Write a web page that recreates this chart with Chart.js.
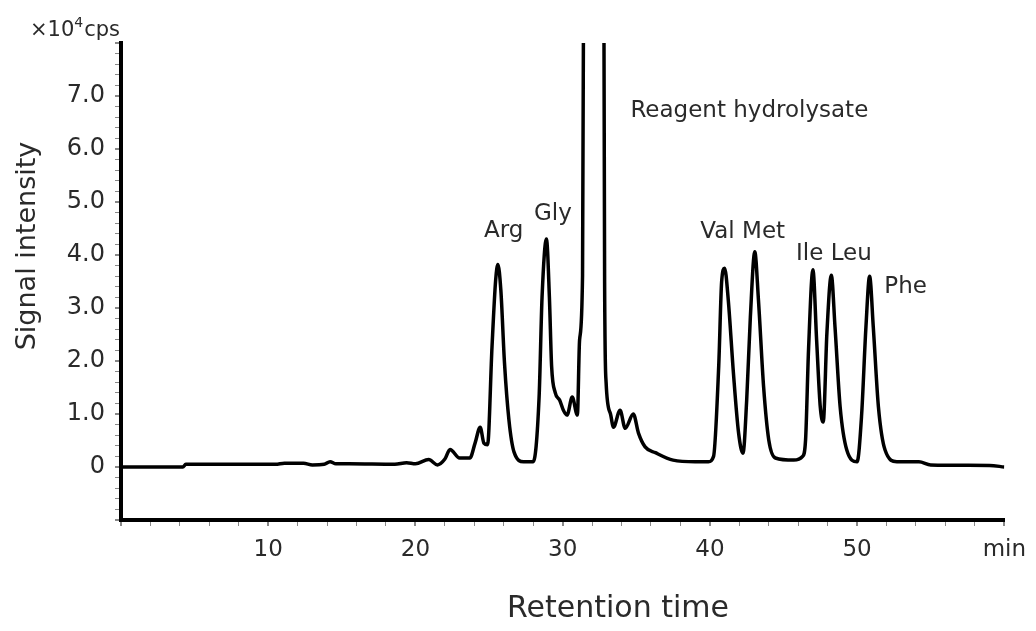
<!DOCTYPE html>
<html>
<head>
<meta charset="utf-8">
<script src="https://cdn.jsdelivr.net/npm/chart.js@4"></script>
<style>
    body { margin: 0; background: #fff; }
    canvas { display: block; }
</style>
</head>
<body>
<canvas id="chart" width="1036" height="631"></canvas>
<script>
// retention time (min) and signal (x10^4 cps)
const times = [
    0, 4.2, 4.4, 10.5, 11.1, 11.8, 12.4, 13.0, 13.8, 14.2, 14.6, 15.5, 18.6, 19.4, 20.0, 20.9,
    21.5, 22.0, 22.35, 23.0, 23.7, 24.05, 24.4, 24.65, 24.9, 25.2, 25.45, 25.6, 25.8, 26.05,
    26.35, 26.7, 27.35, 28.0, 28.4, 28.6, 28.9, 29.1, 29.25, 29.5, 29.8, 30.05, 30.3, 30.65,
    31.0, 31.15, 31.35, 31.55, 31.9, 32.3, 32.7, 32.85, 32.95, 33.25, 33.45, 33.9, 34.25, 34.8,
    35.15, 35.6, 36.3, 37.5, 39.0, 39.9, 40.25, 40.6, 40.8, 41.0, 41.25, 41.6, 41.95, 42.25,
    42.5, 42.75, 43.05, 43.3, 43.65, 44.0, 44.45, 45.7, 46.3, 46.5, 46.7, 47.0, 47.25, 47.5,
    47.7, 47.95, 48.25, 48.5, 48.85, 49.3, 50.0, 50.3, 50.6, 50.85, 51.1, 51.45, 51.9, 52.7,
    54.2, 55.0, 59.0, 60.0
];
const signal = [
    0, 0, 0.05, 0.05, 0.07, 0.07, 0.07, 0.04, 0.05, 0.1, 0.06, 0.06, 0.05, 0.08, 0.06, 0.14,
    0.04, 0.15, 0.33, 0.17, 0.17, 0.45, 0.75, 0.45, 0.42, 2.26, 3.53, 3.82, 3.34, 1.96,
    0.89, 0.28, 0.1, 0.1, 1.32, 3.2, 4.3, 3.2, 1.9, 1.4, 1.26, 1.07, 0.98, 1.32,
    0.98, 2.4, 3.6, 20, 40, 40, 20, 3.5, 1.6, 1.0, 0.75, 1.07, 0.73, 1.0,
    0.64, 0.38, 0.27, 0.13, 0.1, 0.1, 0.2, 1.9, 3.5, 3.75, 3.15, 1.77, 0.64, 0.26,
    1.26, 2.83, 4.06, 3.15, 1.51, 0.51, 0.17, 0.13, 0.2, 0.51, 2.2, 3.72, 2.4, 1.13,
    0.85, 2.53, 3.62, 2.64, 1.13, 0.32, 0.1, 0.95, 2.64, 3.6, 2.64, 1.13, 0.32, 0.1,
    0.1, 0.04, 0.03, 0
];

const peakNames = ['Arg', 'Gly', 'Reagent hydrolysate', 'Val Met', 'Ile Leu', 'Phe'];
const peakLabelTimes = [24.65, 28.05, 34.6, 39.35, 45.85, 51.85];
const peakLabelHeights = [4.34, 4.66, 6.6, 4.32, 3.9, 3.28];

const xLabeled = [10, 20, 30, 40, 50];
const yLabeled = [0, 1, 2, 3, 4, 5, 6, 7];

const FONT = '"DejaVu Sans", sans-serif';
const TEXT_COLOR = '#2a2a2a';

function isWhole(v) {
    return Math.abs(v - Math.round(v)) < 1e-6;
}

const textPlugin = {
    id: 'chromText',
    afterDraw(chart) {
        const ctx = chart.ctx;
        const xs = chart.scales.x;
        const ys = chart.scales.y;
        ctx.save();
        ctx.fillStyle = TEXT_COLOR;

        // peak names
        ctx.font = '23px ' + FONT;
        ctx.textAlign = 'left';
        ctx.textBaseline = 'alphabetic';
        peakNames.forEach((name, i) => {
            ctx.fillText(name, xs.getPixelForValue(peakLabelTimes[i]), ys.getPixelForValue(peakLabelHeights[i]));
        });

        // unit  x10^4 cps
        let ux = 30;
        ctx.font = '21px ' + FONT;
        ctx.fillText('×10', ux, 36);
        ux += ctx.measureText('×10').width;
        ctx.font = '14px ' + FONT;
        ctx.fillText('4', ux, 27);
        ux += ctx.measureText('4').width + 1;
        ctx.font = '21px ' + FONT;
        ctx.fillText('cps', ux, 36);

        // axis titles
        ctx.textAlign = 'center';
        ctx.textBaseline = 'middle';
        ctx.font = '30px ' + FONT;
        ctx.fillText('Retention time', 618, 609);

        ctx.translate(28, 246);
        ctx.rotate(-Math.PI / 2);
        ctx.font = '27px ' + FONT;
        ctx.fillText('Signal intensity', 0, 0);
        ctx.restore();
    }
};

const ctx = document.getElementById('chart').getContext('2d');
const chart = new Chart(ctx, {
    type: 'line',
    data: {
        datasets: [{
            data: times.map((t, i) => ({ x: t, y: signal[i] })),
            borderColor: '#000',
            borderWidth: 3.5,
            pointRadius: 0,
            cubicInterpolationMode: 'monotone',
            fill: false
        }]
    },
    options: {
        responsive: false,
        animation: false,
        layout: { padding: { top: 43, right: 29, left: 0, bottom: 0 } },
        plugins: {
            legend: { display: false },
            tooltip: { enabled: false }
        },
        scales: {
            x: {
                type: 'linear',
                min: 0,
                max: 60,
                afterFit(scale) { scale.height = 111; },
                border: { color: '#000', width: 4 },
                grid: {
                    drawOnChartArea: false,
                    tickLength: 6,
                    color: '#888',
                    lineWidth: c => (c.tick && c.tick.value % 10 === 0 ? 2 : 1)
                },
                ticks: {
                    stepSize: 2,
                    autoSkip: false,
                    maxRotation: 0,
                    padding: 10,
                    color: TEXT_COLOR,
                    font: { family: FONT, size: 23 },
                    callback: v => (v === 60 ? 'min' : (xLabeled.includes(v) ? String(v) : ''))
                }
            },
            y: {
                min: -1,
                max: 8,
                afterFit(scale) { scale.width = 121; },
                border: { color: '#000', width: 4 },
                grid: {
                    drawOnChartArea: false,
                    tickLength: 6,
                    color: '#888',
                    lineWidth: c => (c.tick && isWhole(c.tick.value) ? 2 : 1)
                },
                ticks: {
                    stepSize: 0.2,
                    autoSkip: false,
                    padding: 10,
                    color: TEXT_COLOR,
                    font: { family: FONT, size: 24 },
                    callback: v => {
                        if (!isWhole(v)) return '';
                        const n = Math.round(v);
                        if (!yLabeled.includes(n)) return '';
                        return n === 0 ? '0' : n.toFixed(1);
                    }
                }
            }
        }
    },
    plugins: [textPlugin]
});
</script>
</body>
</html>
